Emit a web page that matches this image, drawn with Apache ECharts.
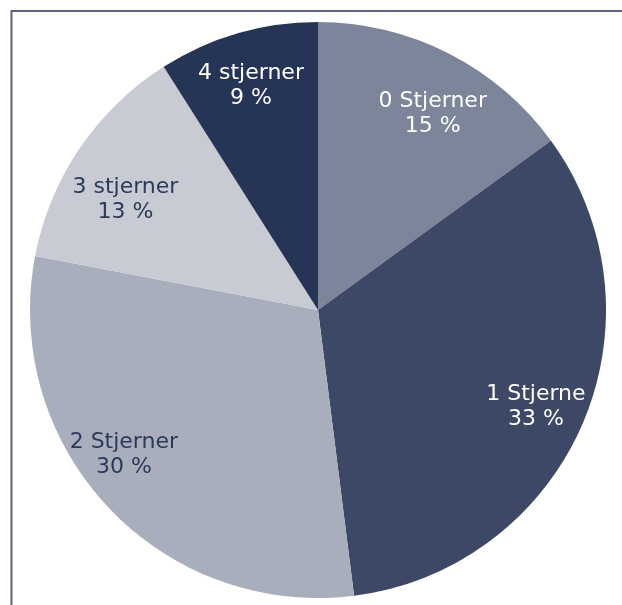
<!DOCTYPE html>
<html>
<head>
<meta charset="utf-8">
<script src="https://cdn.jsdelivr.net/npm/echarts@6/dist/echarts.min.js"></script>
<style>
html,body{margin:0;padding:0;background:#fff;}
#chart{width:622px;height:605px;}
</style>
</head>
<body>
<div id="chart"></div>
<script>
var categories = ['0 Stjerner', '1 Stjerne', '2 Stjerner', '3 stjerner', '4 stjerner'];
var values = [15, 33, 30, 13, 9];

var sliceColors = ['#7c8599', '#3d4866', '#a9aebd', '#c8cbd4', '#263456'];
var labelColors = ['#ffffff', '#ffffff', '#2c3a5a', '#2c3a5a', '#ffffff'];
var labelOffsets = [[48, -65], [83, 38], [-87, 44], [-71, -28], [-26, -83]];

var chart = echarts.init(document.getElementById('chart'), null, {renderer: 'canvas'});
var data = categories.map(function (c, i) {
  return {
    name: c,
    value: values[i],
    itemStyle: {color: sliceColors[i]},
    label: {color: labelColors[i], offset: labelOffsets[i]}
  };
});

chart.setOption({
  animation: false,
  backgroundColor: '#ffffff',
  graphic: [{
    type: 'rect',
    shape: {x: 11.5, y: 11, width: 700, height: 700},
    style: {fill: 'none', stroke: '#5b6479', lineWidth: 2},
    silent: true
  }],
  series: [{
    type: 'pie',
    center: [318, 310],
    radius: [0, 288],
    startAngle: 90,
    clockwise: true,
    avoidLabelOverlap: false,
    itemStyle: {borderWidth: 0},
    label: {
      show: true,
      position: 'inside',
      formatter: '{b}\n{c} %',
      fontFamily: 'DejaVu Sans',
      fontSize: 22,
      lineHeight: 25,
      align: 'center'
    },
    labelLine: {show: false},
    emphasis: {disabled: true},
    data: data
  }]
});
</script>
</body>
</html>
